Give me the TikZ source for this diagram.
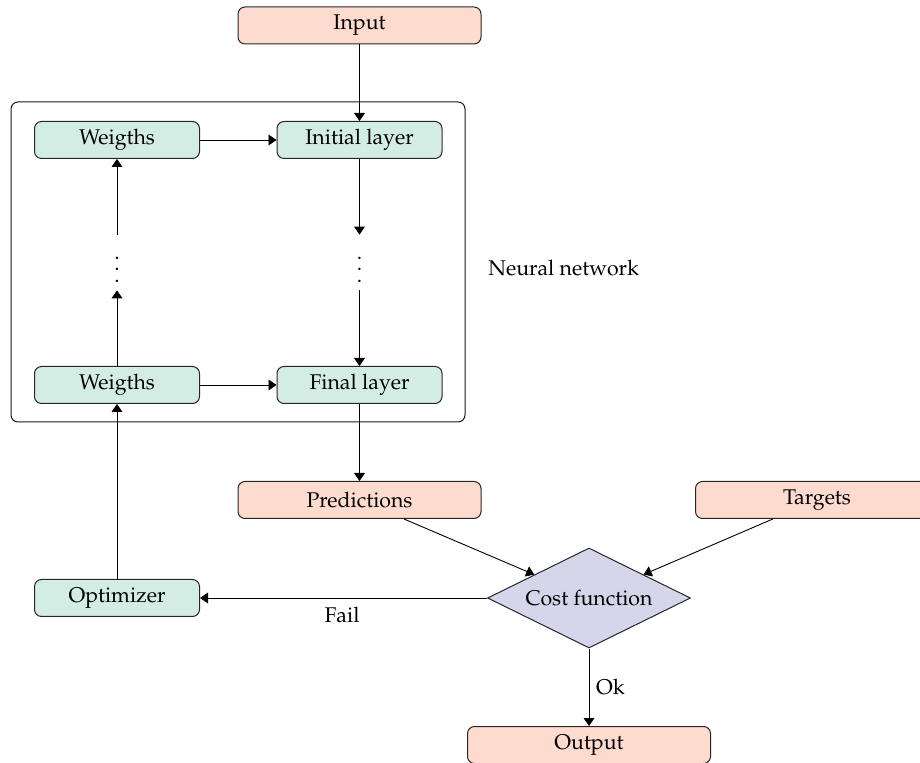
\documentclass[tikz,border=0pt]{standalone}
\usepackage[T1]{fontenc}
\usepackage{mathpazo}
\usetikzlibrary{shapes.geometric,arrows.meta}
\definecolor{layergreen}{RGB}{212,237,228}
\definecolor{iopink}{RGB}{253,219,207}
\definecolor{costlilac}{RGB}{214,214,235}
\tikzset{
  box/.style={draw=black!85, line width=0.5pt, rounded corners=3.5pt, inner sep=0pt,
              minimum height=18.5pt, align=center},
  layerbox/.style={box, fill=layergreen, minimum width=82.5pt},
  iobox/.style={box, fill=iopink, minimum width=121.5pt},
  decision/.style={diamond, draw=black!85, line width=0.5pt, fill=costlilac, aspect=2,
                   inner sep=0pt, minimum width=101.5pt, minimum height=50pt},
  frame/.style={draw=black!90, line width=0.5pt, rounded corners=3.5pt, inner sep=0pt,
                minimum width=227pt, minimum height=160pt},
  dotsnode/.style={anchor=base, inner sep=0pt, text height=23.75pt, text depth=3.75pt},
  flow/.style={-{Triangle[length=4pt,width=5.4pt]}, line width=0.45pt}
}
\newcommand{\stackdots}{\vbox{\baselineskip=5.75pt\lineskip=0pt\lineskiplimit=-100pt
  \hbox{.}\hbox{.}\hbox{.}}}
\begin{document}
\begin{tikzpicture}[x=0.5pt, y=-0.5pt, font=\fontsize{10.65}{13}\selectfont]
  \useasboundingbox (0,0) rectangle (920,763);

  % neural network frame
  \node[frame] (nn) at (238,262) {};
  \node[anchor=west, inner sep=0pt] (nnlabel) at (488,268) {Neural network};

  % inputs and outputs
  \node[iobox] (input) at (359.5,25.5) {Input};
  \node[iobox] (pred) at (359.5,500) {Predictions};
  \node[iobox] (targ) at (817,500) {Targets};
  \node[iobox] (out) at (589,745) {Output};

  % layers and weights
  \node[layerbox] (w1) at (117,140) {Weigths};
  \node[layerbox] (init) at (359.5,140) {Initial layer};
  \node[layerbox] (w2) at (117,385) {Weigths};
  \node[layerbox] (final) at (359.5,385) {Final layer};
  \node[layerbox] (opt) at (117,598) {Optimizer};

  % elided layers
  \node[dotsnode] (dl) at (117,282.5) {\stackdots};
  \node[dotsnode] (dr) at (359.5,282.5) {\stackdots};

  % cost decision
  \node[decision] (cost) at (589,598) {Cost function};

  % connectors
  \draw[flow] (input) -- (init);
  \draw[flow] (w1) -- (init);
  \draw[flow] (w2) -- (final);
  \draw[flow] (init) -- (dr);
  \draw[flow] (dr) -- (final);
  \draw[flow] (w2) -- (dl);
  \draw[flow] (dl) -- (w1);
  \draw[flow] (final) -- (pred);
  \draw[flow] (pred) -- (cost);
  \draw[flow] (targ) -- (cost);
  \draw[flow] (cost) -- node[below, pos=0.505, yshift=-1pt] {Fail} (opt);
  \draw[flow] (cost) -- node[right, pos=0.5] {Ok} (out);
  \draw[flow] (opt) -- (w2);
\end{tikzpicture}
\end{document}
